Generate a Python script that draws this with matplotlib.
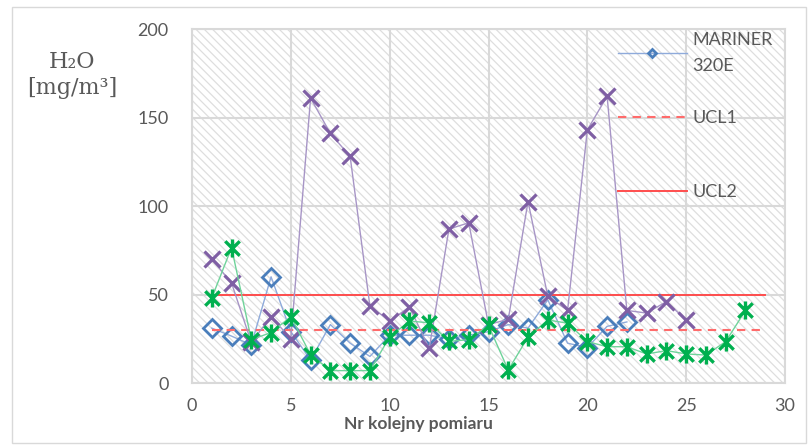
import matplotlib
matplotlib.use("Agg")
import matplotlib.pyplot as plt
from matplotlib.path import Path
from matplotlib.patches import Rectangle
import numpy as np

# ---- data ----
x_blue = [1, 2, 3, 4, 5, 6, 7, 8, 9, 10, 11, 12, 13, 14, 15, 16, 17, 18, 19, 20, 21, 22]
y_blue = [31, 26.5, 21.5, 60, 29, 13, 33, 22.5, 15, 27, 27, 27, 25, 27, 29, 33, 31, 47, 22.5, 20, 32, 34.5]

x_purple = [1, 2, 3, 4, 5, 6, 7, 8, 9, 10, 11, 12, 13, 14, 15, 16, 17, 18, 19, 20, 21, 22, 23, 24, 25]
y_purple = [70, 56.5, 23, 37.5, 25, 161, 141, 128, 43.5, 35, 43, 19.5, 87, 90.5, 33, 36, 102.5, 49, 41, 143, 162, 41, 39.5, 46, 35.5]

x_green = [1, 2, 3, 4, 5, 6, 7, 8, 9, 10, 11, 12, 13, 14, 15, 16, 17, 18, 19, 20,
           21, 22, 23, 24, 25, 26, 27, 28]
y_green = [48, 76.5, 24.5, 28.5, 37.5, 16, 7, 7, 7, 26, 35, 34, 23.5, 24.5, 32.5, 7.3, 26, 35.6, 33.8, 23.4,
           20.5, 20.5, 16.4, 18.3, 16.4, 15.8, 23.4, 41]

ucl_x = [1, 29]
ucl1 = [30, 30]
ucl2 = [50, 50]

x_ticks = [0, 5, 10, 15, 20, 25, 30]
y_ticks = [0, 50, 100, 150, 200]

legend_labels = ["MARINER\n320E", "UCL1", "UCL2"]
x_title = "Nr kolejny pomiaru"
y_title = "H\u2082O\n[mg/m\u00b3]"

# ---- style ----
W, H = 808, 445
plt.rcParams["font.family"] = ["Lato", "DejaVu Sans"]
plt.rcParams["hatch.color"] = "#dedede"
plt.rcParams["hatch.linewidth"] = 0.9

fig = plt.figure(figsize=(W / 100, H / 100), dpi=100)
fig.patch.set_facecolor("white")

# outer chart border
fig.add_artist(Rectangle((12 / W, 2 / H), (806 - 12) / W, (438 - 2) / H,
                         transform=fig.transFigure, fill=False,
                         edgecolor="#d9d9d9", linewidth=1.0))

left, right, bottom, top = 192, 785, 383, 29
ax = fig.add_axes([left / W, (H - bottom) / H, (right - left) / W, (bottom - top) / H])
ax.set_facecolor("white")
ax.add_patch(Rectangle((0, 0), 1, 1, transform=ax.transAxes, facecolor="white",
                       edgecolor="#dedede", hatch="\\\\\\\\", linewidth=0, zorder=0))

ax.set_xlim(0, 30)
ax.set_ylim(0, 200)
ax.set_xticks(x_ticks)
ax.set_yticks(y_ticks)
ax.grid(True, color="#d9d9d9", linewidth=1.5, zorder=0.5)
ax.set_axisbelow(True)
for s in ax.spines.values():
    s.set_color("#d9d9d9")
    s.set_linewidth(1.5)
ax.tick_params(axis="both", length=0, labelsize=13, labelcolor="#595959")
ax.tick_params(axis="x", pad=11)
ax.tick_params(axis="y", pad=17)

# asterisk marker (X plus vertical bar)
star = Path([(-1, -1), (1, 1), (-1, 1), (1, -1), (0, -1.25), (0, 1.25)],
            [Path.MOVETO, Path.LINETO, Path.MOVETO, Path.LINETO, Path.MOVETO, Path.LINETO])

h_blue, = ax.plot(x_blue, y_blue, color="#8eaadb", linewidth=1.0, marker="D", markersize=9,
                  markerfacecolor="none", markeredgecolor="#4a7ebb", markeredgewidth=2.0, zorder=3)
h_u1, = ax.plot(ucl_x, ucl1, color="#ff6b6b", linewidth=1.5, linestyle=(0, (4, 3)), zorder=3)
h_u2, = ax.plot(ucl_x, ucl2, color="#ff4d4d", linewidth=1.4, zorder=3)
ax.plot(x_purple, y_purple, color="#a795c6", linewidth=1.0, marker="x", markersize=11,
        markeredgecolor="#7f5fa4", markeredgewidth=2.3, zorder=4)
ax.plot(x_green, y_green, color="#6fd39a", linewidth=1.0, marker=star, markersize=13,
        markeredgecolor="#00b04f", markeredgewidth=2.4, zorder=5)

leg_kw = dict(frameon=False, fontsize=13, handlelength=3.8, handletextpad=0.3,
              borderpad=0, markerscale=0.5, bbox_transform=fig.transFigure)
leg1 = ax.legend([h_blue, h_u1], legend_labels[:2], loc="upper left",
                 bbox_to_anchor=(609 / W, (H - 23) / H), labelspacing=2.0, **leg_kw)
for t in leg1.get_texts():
    t.set_color("#595959")
    t.set_linespacing(1.75)
ax.add_artist(leg1)
leg2 = ax.legend([h_u2], legend_labels[2:], loc="center left",
                 bbox_to_anchor=(609 / W, (H - 192) / H), **leg_kw)
for t in leg2.get_texts():
    t.set_color("#595959")

ax.set_xlabel(x_title, fontsize=12.5, fontweight="bold", color="#595959")
ax.xaxis.set_label_coords((418 - left) / (right - left), (bottom - 424) / (bottom - top),
                          transform=ax.transAxes)
ax.xaxis.label.set_va("center")

fig.text(72 / W, (H - 75) / H, y_title, ha="center", va="center", fontsize=16,
         color="#595959", family=["DejaVu Serif", "Liberation Serif"], linespacing=1.2)

fig.savefig("out.png", dpi=100)
